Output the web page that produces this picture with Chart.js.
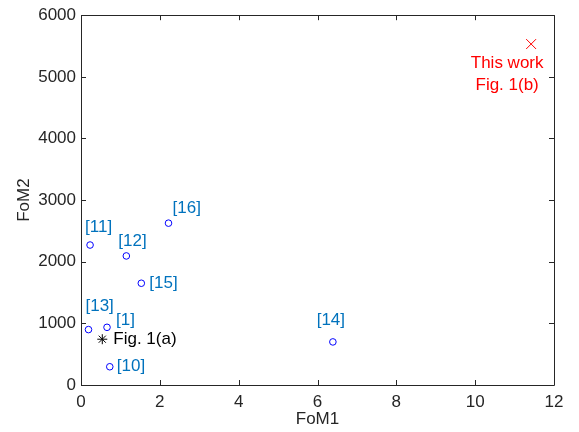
<!DOCTYPE html>
<html>
<head>
<meta charset="utf-8">
<script src="https://cdn.jsdelivr.net/npm/chart.js@4/dist/chart.umd.min.js"></script>
<style>
  html, body { margin: 0; padding: 0; background: #fff; }
  #wrap { width: 579px; height: 432px; }
</style>
</head>
<body>
<div id="wrap"><canvas id="c" width="579" height="432"></canvas></div>
<script>
// ---- data ----
const refLabels = ['[1]', '[10]', '[11]', '[12]', '[13]', '[14]', '[15]', '[16]'];
const refFoM1   = [0.66, 0.73, 0.23, 1.15, 0.19, 6.39, 1.53, 2.22];
const refFoM2   = [936, 296, 2271, 2094, 899, 699, 1651, 2626];
const fig1aLabel = 'Fig. 1(a)';
const fig1aFoM1 = [0.54];
const fig1aFoM2 = [743];
const thisWorkLabel = ['This work', 'Fig. 1(b)'];
const thisWorkFoM1 = [11.42];
const thisWorkFoM2 = [5532];
const xTicks = [0, 2, 4, 6, 8, 10, 12];
const yTicks = [0, 1000, 2000, 3000, 4000, 5000, 6000];

// ---- label placement (pixel offsets from marker: [dx, dy, align]) ----
const refLabelOffsets = {
  '[1]':  [9, -7, 'left'],
  '[10]': [7, 0, 'left'],
  '[11]': [-5, -18, 'left'],
  '[12]': [-8, -15, 'left'],
  '[13]': [-3, -23, 'left'],
  '[14]': [-2, -22, 'center'],
  '[15]': [8, 0, 'left'],
  '[16]': [4, -15, 'left']
};

const FONT = "'Liberation Sans', Arial, sans-serif";
const AXIS_COLOR = '#262626';
const REF_TEXT = '#0072BD';

const toPts = (xs, ys) => xs.map((x, i) => ({ x: x, y: ys[i] }));

const framePlugin = {
  id: 'frame',
  afterDraw(chart) {
    const { ctx, chartArea: a, scales } = chart;
    const xs = scales.x, ys = scales.y;
    ctx.save();
    ctx.strokeStyle = AXIS_COLOR;
    ctx.lineWidth = 1;
    ctx.beginPath();
    ctx.rect(Math.round(a.left) + 0.5, Math.round(a.top) + 0.5,
             Math.round(a.right - a.left), Math.round(a.bottom - a.top));
    ctx.stroke();
    const L = 5;
    ctx.beginPath();
    xTicks.forEach(v => {
      const px = Math.round(xs.getPixelForValue(v)) + 0.5;
      ctx.moveTo(px, a.bottom); ctx.lineTo(px, a.bottom - L);
      ctx.moveTo(px, a.top); ctx.lineTo(px, a.top + L);
    });
    yTicks.forEach(v => {
      const py = Math.round(ys.getPixelForValue(v)) + 0.5;
      ctx.moveTo(a.left, py); ctx.lineTo(a.left + L, py);
      ctx.moveTo(a.right, py); ctx.lineTo(a.right - L, py);
    });
    ctx.stroke();
    ctx.restore();
  }
};

const labelPlugin = {
  id: 'pointLabels',
  afterDatasetsDraw(chart) {
    const { ctx } = chart;
    ctx.save();
    ctx.font = '17px ' + FONT;
    ctx.textBaseline = 'middle';
    chart.getDatasetMeta(0).data.forEach((el, i) => {
      const lab = refLabels[i];
      const off = refLabelOffsets[lab];
      ctx.fillStyle = REF_TEXT;
      ctx.textAlign = off[2];
      ctx.fillText(lab, el.x + off[0], el.y + off[1]);
    });
    chart.getDatasetMeta(1).data.forEach(el => {
      ctx.fillStyle = '#000000';
      ctx.textAlign = 'left';
      ctx.fillText(fig1aLabel, el.x + 11, el.y);
    });
    chart.getDatasetMeta(2).data.forEach(el => {
      ctx.fillStyle = '#FF0000';
      ctx.textAlign = 'center';
      thisWorkLabel.forEach((t, k) => ctx.fillText(t, el.x - 24, el.y + 19 + k * 22));
    });
    ctx.restore();
  }
};

new Chart(document.getElementById('c'), {
  type: 'scatter',
  data: {
    datasets: [
      {
        label: 'refs',
        data: toPts(refFoM1, refFoM2),
        pointStyle: 'circle',
        pointRadius: 3.3,
        pointBorderWidth: 1,
        borderColor: '#0000FF',
        backgroundColor: 'rgba(0,0,0,0)'
      },
      {
        label: 'fig1a',
        data: toPts(fig1aFoM1, fig1aFoM2),
        pointStyle: 'star',
        pointRadius: 5,
        pointBorderWidth: 1,
        borderColor: '#000000',
        backgroundColor: 'rgba(0,0,0,0)'
      },
      {
        label: 'thiswork',
        data: toPts(thisWorkFoM1, thisWorkFoM2),
        pointStyle: 'crossRot',
        pointRadius: 7,
        pointBorderWidth: 1,
        borderColor: '#FF0000',
        backgroundColor: 'rgba(0,0,0,0)'
      }
    ]
  },
  options: {
    responsive: false,
    animation: false,
    events: [],
    layout: { padding: { left: 0, top: 13, right: 25, bottom: 0 } },
    plugins: { legend: { display: false }, tooltip: { enabled: false } },
    scales: {
      x: {
        type: 'linear',
        min: 0, max: 12,
        afterBuildTicks: s => { s.ticks = xTicks.map(v => ({ value: v })); },
        afterFit: s => { s.height = 47; },
        grid: { display: false, drawTicks: false },
        border: { display: false },
        ticks: { color: AXIS_COLOR, font: { family: FONT, size: 17 }, padding: 7, maxRotation: 0,
                 callback: v => String(v) },
        title: { display: true, text: 'FoM1', color: AXIS_COLOR, font: { family: FONT, size: 17 }, padding: { top: 0, bottom: 2 } }
      },
      y: {
        type: 'linear',
        min: 0, max: 6000,
        afterBuildTicks: s => { s.ticks = yTicks.map(v => ({ value: v })); },
        afterFit: s => { s.width = 81; },
        grid: { display: false, drawTicks: false },
        border: { display: false },
        ticks: { color: AXIS_COLOR, font: { family: FONT, size: 17 }, padding: 5,
                 callback: v => String(v) },
        title: { display: true, text: 'FoM2', color: AXIS_COLOR, font: { family: FONT, size: 17 }, padding: { top: 14, bottom: 0 } }
      }
    }
  },
  plugins: [framePlugin, labelPlugin]
});
</script>
</body>
</html>
